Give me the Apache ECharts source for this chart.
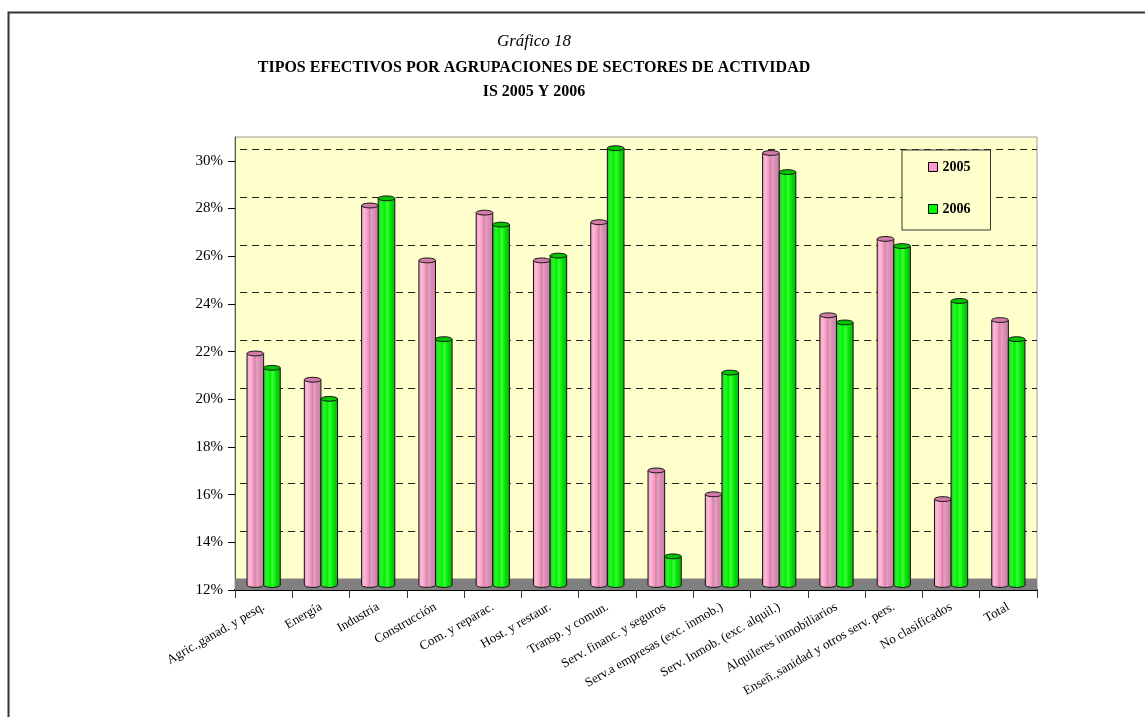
<!DOCTYPE html>
<html>
<head>
<meta charset="utf-8">
<script src="https://cdn.jsdelivr.net/npm/echarts@6/dist/echarts.min.js"></script>
<style>
  html, body { margin: 0; padding: 0; background: #fff; }
  #chart { width: 1145px; height: 717px; }
</style>
</head>
<body>
<div id="chart"></div>
<script>
// Sector groupings
const categories = [
  'Agric.,ganad. y pesq.', 'Energía', 'Industria', 'Construcción',
  'Com. y reparac.', 'Host. y restaur.', 'Transp. y comun.',
  'Serv. financ. y seguros', 'Serv.a empresas (exc. inmob.)',
  'Serv. Inmob. (exc. alquil.)', 'Alquileres inmobiliarios',
  'Enseñ.,sanidad y otros serv. pers.', 'No clasificados', 'Total'
];
// Effective tax rates (%)
const rates2005 = [21.7, 20.6, 27.9, 25.6, 27.6, 25.6, 27.2, 16.8, 15.8, 30.1, 23.3, 26.5, 15.6, 23.1];
const rates2006 = [21.1, 19.8, 28.2, 22.3, 27.1, 25.8, 30.3, 13.2, 20.9, 29.3, 23.0, 26.2, 23.9, 22.3];
const yTicks = [12, 14, 16, 18, 20, 22, 24, 26, 28, 30];
const seriesNames = ['2005', '2006'];

const FONT = '"Liberation Serif", "Times New Roman", serif';

const pinkBody = {
  type: 'linear', x: 0, y: 0, x2: 1, y2: 0,
  colorStops: [
    { offset: 0, color: '#F2A2C4' }, { offset: 0.18, color: '#FFB8D6' },
    { offset: 0.38, color: '#EE9CC0' }, { offset: 0.48, color: '#D97DAA' },
    { offset: 0.58, color: '#E4A0C0' }, { offset: 0.8, color: '#D48AAE' },
    { offset: 1, color: '#C884A6' }
  ]
};
const greenBody = {
  type: 'linear', x: 0, y: 0, x2: 1, y2: 0,
  colorStops: [
    { offset: 0, color: '#1FC81F' }, { offset: 0.2, color: '#2CF52C' },
    { offset: 0.4, color: '#00F000' }, { offset: 0.52, color: '#3CFF3C' },
    { offset: 0.75, color: '#00E400' }, { offset: 1, color: '#15B015' }
  ]
};

// Cylinder drawn from the bar-grid scale: side 0 = left of the category centre, 1 = right
function cylinder(side, body, topFill) {
  return function (params, api) {
    const i = api.value(0);
    const v = api.value(1);
    const top = api.coord([i, v]);
    const base = api.coord([i, 12]);
    const bw = api.size([1, 0])[0] * 0.29;
    const x0 = side === 0 ? top[0] - bw : top[0];
    const ry = 2.4;
    const cx = x0 + bw / 2;
    return {
      type: 'group',
      children: [
        { type: 'ellipse', shape: { cx: cx, cy: base[1], rx: bw / 2, ry: ry },
          style: { fill: body, stroke: '#111', lineWidth: 1 } },
        { type: 'rect', shape: { x: x0, y: top[1], width: bw, height: base[1] - top[1] },
          style: { fill: body } },
        { type: 'line', shape: { x1: x0, y1: top[1], x2: x0, y2: base[1] },
          style: { stroke: '#111', lineWidth: 1 } },
        { type: 'line', shape: { x1: x0 + bw, y1: top[1], x2: x0 + bw, y2: base[1] },
          style: { stroke: '#111', lineWidth: 1 } },
        { type: 'ellipse', shape: { cx: cx, cy: top[1], rx: bw / 2, ry: ry },
          style: { fill: topFill, stroke: '#111', lineWidth: 1 } }
      ]
    };
  };
}

const chart = echarts.init(document.getElementById('chart'), null, { renderer: 'canvas' });

const option = {
  animation: false,
  textStyle: { fontFamily: FONT },
  graphic: [
    { type: 'polyline', z: 10, shape: { points: [[8.5, 717], [8.5, 12.5], [1145, 12.5]] },
      style: { stroke: '#333', lineWidth: 2, fill: null } },
    { type: 'text', x: 534, y: 42, style: { text: 'Gráfico 18', fontFamily: FONT, fontStyle: 'italic',
      fontSize: 17, fill: '#000', textAlign: 'center', textVerticalAlign: 'middle' } },
    { type: 'text', x: 534, y: 68, style: { text: 'TIPOS EFECTIVOS POR AGRUPACIONES DE SECTORES DE ACTIVIDAD',
      fontFamily: FONT, fontWeight: 'bold', fontSize: 16, fill: '#000', textAlign: 'center', textVerticalAlign: 'middle' } },
    { type: 'text', x: 534, y: 92, style: { text: 'IS 2005 Y 2006',
      fontFamily: FONT, fontWeight: 'bold', fontSize: 16, fill: '#000', textAlign: 'center', textVerticalAlign: 'middle' } },
    // floor of the plot
    { type: 'rect', z: 1, shape: { x: 235, y: 578.5, width: 802, height: 11.5 },
      style: { fill: '#808080' } }
  ],
  legend: {
    data: seriesNames,
    orient: 'vertical',
    left: 902, top: 150,
    padding: [10, 20, 14, 26],
    itemGap: 28,
    itemWidth: 9, itemHeight: 9,
    icon: 'rect',
    backgroundColor: '#FFFFCC',
    borderColor: '#333', borderWidth: 1,
    itemStyle: { borderColor: '#000', borderWidth: 1 },
    textStyle: { fontFamily: FONT, fontWeight: 'bold', fontSize: 14, color: '#000' }
  },
  grid: [
    // front plane: axis labels and ticks
    { left: 235, right: 108, top: 137, bottom: 127, show: true,
      backgroundColor: '#FFFFCC', borderColor: '#9a9a9a', borderWidth: 1 },
    // back wall: gridlines
    { left: 240, right: 108, top: 149.3, bottom: 138 },
    // middle plane: cylinders
    { left: 235, right: 108, top: 131.5, bottom: 132 }
  ],
  xAxis: [
    { gridIndex: 0, type: 'category', data: categories, boundaryGap: true,
      axisLine: { lineStyle: { color: '#000', width: 2 } },
      axisTick: { show: true, length: 8, lineStyle: { color: '#333' } },
      axisLabel: { interval: 0, rotate: 30, margin: 16, fontSize: 13, fontFamily: FONT, color: '#000' } },
    { gridIndex: 1, type: 'category', data: categories, show: false },
    { gridIndex: 2, type: 'category', data: categories, show: false }
  ],
  yAxis: [
    { gridIndex: 0, type: 'value', min: 12, max: 31,
      axisLine: { show: true, lineStyle: { color: '#555', width: 1 } },
      axisTick: { show: true, length: 7, customValues: yTicks, lineStyle: { color: '#000' } },
      axisLabel: { customValues: yTicks, formatter: '{value}%', margin: 12, fontSize: 15,
        fontFamily: FONT, color: '#000' },
      splitLine: { show: false } },
    { gridIndex: 1, type: 'value', min: 12, max: 30, interval: 2,
      axisLine: { show: false }, axisTick: { show: false }, axisLabel: { show: false },
      splitLine: { show: true, lineStyle: { color: '#222', type: [7, 5], width: 1 } } },
    { gridIndex: 2, type: 'value', min: 12, max: 31, show: false, splitLine: { show: false } }
  ],
  series: [
    { name: seriesNames[0], type: 'custom', xAxisIndex: 2, yAxisIndex: 2, z: 3,
      itemStyle: { color: '#FF99CC' },
      renderItem: cylinder(0, pinkBody, '#D27BA7'),
      encode: { x: 0, y: 1 },
      data: rates2005.map((v, i) => [i, v]) },
    { name: seriesNames[1], type: 'custom', xAxisIndex: 2, yAxisIndex: 2, z: 3,
      itemStyle: { color: '#00FF00' },
      renderItem: cylinder(1, greenBody, '#00C400'),
      encode: { x: 0, y: 1 },
      data: rates2006.map((v, i) => [i, v]) }
  ]
};

chart.setOption(option);
</script>
</body>
</html>
